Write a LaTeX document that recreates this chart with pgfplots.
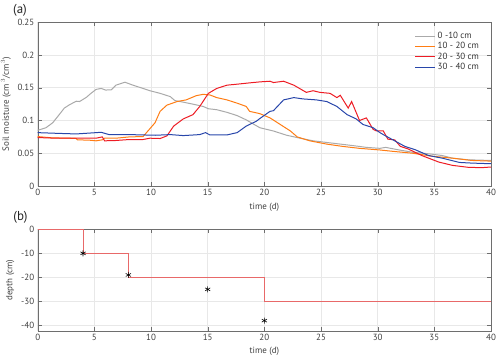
\documentclass[border=0pt]{standalone}
\usepackage{pgfplots}
\pgfplotsset{compat=1.18}
\usepackage{fontspec}
\setmainfont{PT Sans}
\definecolor{c1}{RGB}{170,170,170}
\definecolor{c2}{RGB}{255,125,20}
\definecolor{c3}{RGB}{237,28,36}
\definecolor{c4}{RGB}{40,70,170}
\definecolor{stepred}{RGB}{232,105,105}
\definecolor{axgray}{RGB}{110,110,110}

\pgfplotsset{
  matlab/.style={
    scale only axis, width=453.3bp,
    xmin=0, xmax=40, xtick={0,5,...,40},
    grid=major, major grid style={gray!18, line width=0.8bp},
    axis line style={axgray}, tick style={axgray},
    tick align=inside, major tick length=4bp,
    ticklabel style={font=\fontsize{9}{10}\selectfont, text=black!75},
    /pgf/number format/assume math mode=true,
    xlabel={time (d)},
    label style={font=\fontsize{9}{10}\selectfont, text=black!75},
    every axis plot/.append style={line width=1bp},
  }
}

\begin{document}
\begin{tikzpicture}
\path[use as bounding box] (0,0) rectangle (500bp,-360bp);

\begin{axis}[matlab, name=top,
    at={(37.7bp,-22.3bp)}, anchor=north west, height=163.7bp,
    ymin=0, ymax=0.25, ytick={0,0.05,...,0.25},
    yticklabel style={/pgf/number format/fixed, /pgf/number format/precision=2},
    ylabel={Soil moisture (cm\,$^{3}$/cm$^{3}$)},
    legend style={draw=none, fill=none, at={(0.985,0.965)}, anchor=north east,
      font=\fontsize{9}{9}\selectfont, text=black!80, row sep=-1.5pt},
    legend cell align=left,
    legend image code/.code={\draw[#1, line width=1bp] (0,0) -- (0.7cm,0);},
]
\addplot[c1] coordinates {
 (0,0.085)(0.73,0.089)(1.32,0.0965)(1.9,0.109)(2.35,0.119)(2.8,0.124)
 (3.4,0.1295)(3.7,0.129)(4.3,0.1355)(4.7,0.1415)(5.15,0.1475)(5.6,0.149)
 (6.0,0.1465)(6.5,0.147)(6.9,0.154)(7.7,0.1585)(8.4,0.154)(9.3,0.149)
 (9.9,0.1455)(10.8,0.1415)(11.7,0.1365)(12.1,0.1305)(12.85,0.128)(13.7,0.125)
 (14.6,0.1215)(15.06,0.118)(15.8,0.1165)(16.7,0.1125)(17.6,0.1075)(18.4,0.101)
 (19.6,0.089)(20.8,0.084)(21.97,0.0775)(23.15,0.073)(24.3,0.069)(25.5,0.0665)
 (26.7,0.064)(27.9,0.0615)(29.0,0.059)(30.2,0.0575)(30.7,0.059)(31.9,0.055)
 (33.1,0.0515)(34.6,0.049)(35.7,0.0465)(36.6,0.0425)(38.0,0.04)(40,0.039)
};
\addlegendentry{0 -10 cm}
\addplot[c2] coordinates {
 (0,0.0755)(1.3,0.0735)(2.8,0.073)(3.4,0.0725)(3.5,0.0705)(4.55,0.07)
 (5.15,0.069)(5.7,0.0705)(5.9,0.073)(6.9,0.073)(8.1,0.075)(9.3,0.0755)
 (9.85,0.0865)(10.35,0.0965)(10.8,0.114)(11.4,0.1235)(12.3,0.129)(13.1,0.1315)
 (14.0,0.138)(14.6,0.14)(15.2,0.139)(15.8,0.135)(16.7,0.1315)(17.6,0.1265)
 (18.4,0.1215)(18.7,0.114)(19.6,0.1105)(20.5,0.104)(21.4,0.094)(22.3,0.084)
 (22.9,0.075)(24.0,0.069)(25.5,0.064)(26.9,0.0605)(28.4,0.0575)(30.2,0.055)
 (31.3,0.053)(33.1,0.05)(34.8,0.0455)(36.6,0.0425)(38.3,0.039)(40,0.038)
};
\addlegendentry{10 - 20 cm}
\addplot[c3] coordinates {
 (0,0.074)(1.6,0.073)(3.4,0.073)(5.15,0.073)(5.7,0.075)(5.9,0.069)
 (6.9,0.0695)(8.1,0.071)(9.3,0.071)(9.9,0.073)(10.8,0.0725)(11.4,0.0765)
 (12.0,0.0915)(12.85,0.1025)(13.7,0.109)(14.3,0.1215)(15.06,0.1415)(15.8,0.149)
 (16.7,0.154)(17.6,0.1555)(18.7,0.1575)(19.6,0.159)(20.5,0.16)(20.8,0.158)
 (21.7,0.16)(22.6,0.154)(23.7,0.143)(24.3,0.1455)(24.9,0.143)(25.8,0.1415)
 (26.4,0.135)(26.7,0.1385)(27.4,0.119)(27.7,0.129)(28.4,0.1)(29.0,0.104)
 (29.6,0.0865)(29.9,0.084)(30.5,0.084)(30.9,0.0715)(31.5,0.0705)(32.0,0.0605)
 (32.7,0.0565)(33.9,0.0465)(35.4,0.0365)(36.6,0.0315)(38.0,0.0285)(39.2,0.028)(40,0.029)
};
\addlegendentry{20 - 30 cm}
\addplot[c4] coordinates {
 (0,0.0815)(1.6,0.0805)(3.4,0.0795)(5.6,0.082)(6.3,0.0785)(8.1,0.0785)
 (10.4,0.0775)(11.7,0.0785)(12.85,0.077)(14.3,0.0785)(14.8,0.0815)(15.2,0.078)
 (16.7,0.078)(17.6,0.0815)(18.4,0.0915)(19.3,0.099)(19.6,0.103)(20.5,0.114)
 (20.8,0.115)(21.7,0.1315)(22.6,0.135)(23.4,0.133)(24.6,0.1315)(25.5,0.129)
 (26.4,0.1215)(27.3,0.109)(28.1,0.1025)(28.7,0.094)(29.6,0.089)(30.2,0.0815)
 (30.7,0.0765)(31.5,0.069)(32.4,0.0605)(33.3,0.0555)(34.5,0.0465)(35.7,0.0425)
 (37.2,0.036)(38.3,0.035)(40,0.034)
};
\addlegendentry{30 - 40 cm}
\end{axis}

\begin{axis}[matlab, name=bot,
    at={(37.7bp,-229.3bp)}, anchor=north west, height=101.4bp,
    ymin=-42.2, ymax=0, ytick={-40,-30,...,0},
    ylabel={depth (cm)},
]
\addplot[stepred, line width=0.8bp] coordinates {
 (0,0)(4,0)(4,-10)(8,-10)(8,-20)(20,-20)(20,-30)(40,-30)
};
\addplot[only marks, mark=asterisk, mark size=3bp, black, line width=0.6bp] coordinates {
 (4,-10)(8,-19)(15,-25)(20,-38)
};
\end{axis}

\node[font=\fontsize{13}{14}\selectfont, text=black!85] at (20bp,-10bp) {(a)};
\node[font=\fontsize{13}{14}\selectfont, text=black!85] at (20.5bp,-217bp) {(b)};
\end{tikzpicture}
\end{document}
